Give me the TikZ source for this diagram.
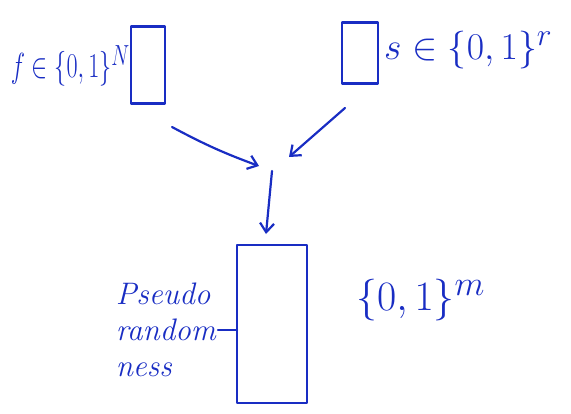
\documentclass[tikz,border=0pt]{standalone}
\usetikzlibrary{arrows.meta}
\definecolor{ink}{RGB}{25,45,195}
\begin{document}
\begin{tikzpicture}[x=1pt,y=-1pt,
  ink/.style={draw=ink,line width=2.2pt,line join=round,line cap=round},
  lbl/.style={text=ink,font=\fontsize{24.88}{36}\selectfont\itshape,inner sep=0pt},
  arr/.style={ink,-{Straight Barb[length=9pt,width=14pt]}}]
\useasboundingbox (0,0) rectangle (571,413);
% boxes
\node[ink,minimum width=34pt,minimum height=77pt,inner sep=0pt] (fbox) at (148,65) {};
\node[ink,minimum width=36pt,minimum height=61pt,inner sep=0pt] (sbox) at (360,53) {};
\node[ink,minimum width=70pt,minimum height=158pt,inner sep=0pt] (pbox) at (272,324) {};
% labels
\node[lbl,anchor=east] (flbl) at (130,66) {\scalebox{0.97}[1.4]{$f\in\{0,1\}^{N}$}};
\node[lbl,anchor=west] (slbl) at (384,50) {\scalebox{1.52}{$s\in\{0,1\}^{r}$}};
\node[lbl,anchor=west] (mlbl) at (356,300) {\scalebox{1.68}{$\{0,1\}^{m}$}};
\node[lbl,align=left,anchor=east] (plbl) at (216,330) {\scalebox{1.25}{Pseudo}\\\scalebox{1.25}{random}\\\scalebox{1.25}{ness}};
% arrows
\coordinate (fa) at (172,127);
\coordinate (fe) at (259,166);
\coordinate (sa) at (345,108);
\coordinate (se) at (289,157);
\coordinate (da) at (272,171);
\coordinate (de) at (266,234);
\coordinate (la) at (218,330);
\coordinate (lb) at (237,330);
\draw[arr] (fa) to[bend right=4] (fe);
\draw[arr] (sa) -- (se);
\draw[arr] (da) -- (de);
\draw[ink] (la) -- (lb);
\end{tikzpicture}
\end{document}
